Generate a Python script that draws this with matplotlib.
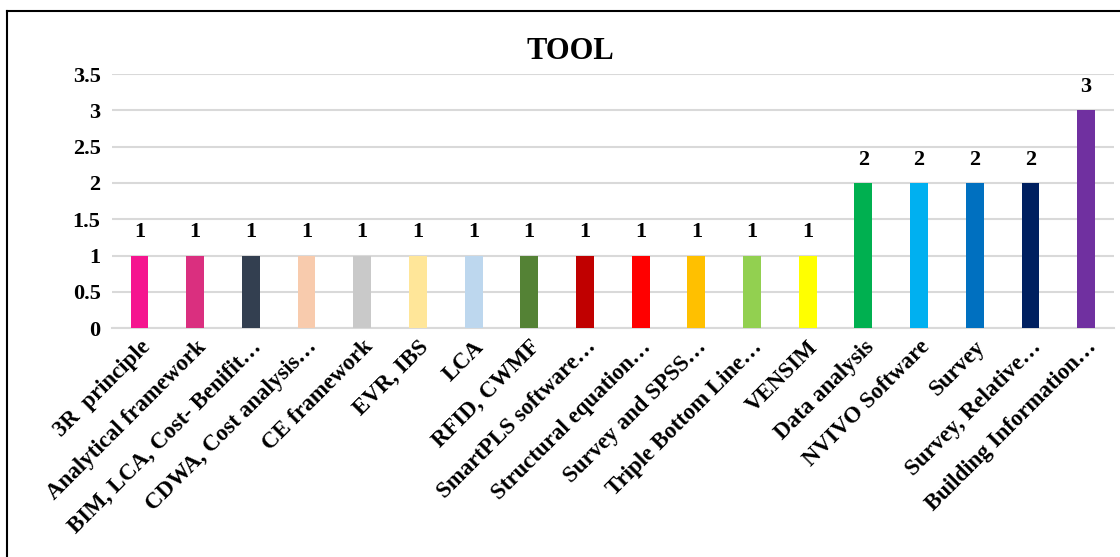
import matplotlib
matplotlib.use("Agg")
import matplotlib.pyplot as plt
from matplotlib.lines import Line2D

tools = [
    "3R  principle", "Analytical framework", "BIM, LCA, Cost- Benifit…",
    "CDWA, Cost analysis…", "CE framework", "EVR, IBS", "LCA", "RFID, CWMF",
    "SmartPLS software…", "Structural equation…", "Survey and SPSS…",
    "Triple Bottom Line…", "VENSIM", "Data analysis", "NVIVO Software",
    "Survey", "Survey, Relative…", "Building Information…",
]
counts = [1, 1, 1, 1, 1, 1, 1, 1, 1, 1, 1, 1, 1, 2, 2, 2, 2, 3]
colors = [
    "#F5158F", "#DA2F7F", "#333F50", "#F8CBAD", "#C9C9C9", "#FFE699",
    "#BDD7EE", "#548235", "#C00000", "#FF0000", "#FFC000", "#92D050",
    "#FFFF00", "#00B050", "#00B0F0", "#0070C0", "#002060", "#7030A0",
]
yticks = [0, 0.5, 1, 1.5, 2, 2.5, 3, 3.5]
ytick_labels = ["0", "0.5", "1", "1.5", "2", "2.5", "3", "3.5"]

plt.rcParams["font.family"] = ["Liberation Serif", "DejaVu Serif"]
plt.rcParams["font.weight"] = "bold"

fig = plt.figure(figsize=(11.2, 5.57), dpi=100)
ax = fig.add_axes([0.0997, 0.411, 0.8949, 0.456])

x = range(len(tools))
bars = ax.bar(x, counts, width=0.32, color=colors, zorder=3)
for b, v in zip(bars, counts):
    ax.text(b.get_x() + b.get_width() / 2, v + 0.18, str(v),
            ha="center", va="bottom", fontsize=16, fontweight="bold")

ax.set_xlim(-0.5, len(tools) - 0.5)
ax.set_ylim(0, 3.5)
ax.set_yticks(yticks)
ax.set_yticklabels(ytick_labels, fontsize=16, fontweight="bold")
ax.set_xticks(list(x))
ax.set_xticklabels(tools, rotation=45, ha="right", rotation_mode="anchor",
                   fontsize=16.5, fontweight="bold")
ax.tick_params(axis="both", length=0, pad=8)
ax.tick_params(axis="x", pad=6)
ax.yaxis.grid(True, color="#D9D9D9", linewidth=1.5, zorder=0)
for s in ["top", "right", "left"]:
    ax.spines[s].set_visible(False)
ax.spines["bottom"].set_color("#D9D9D9")
ax.spines["bottom"].set_linewidth(1.5)

fig.text(0.509, 0.907, "TOOL", ha="center", va="center",
         fontsize=22, fontweight="bold")

# outer chart frame (cut off on the right and bottom)
fig.add_artist(Line2D([0.0063, 1.0], [0.980, 0.980], color="black", lw=1.5))
fig.add_artist(Line2D([0.0063, 0.0063], [0.0, 0.980], color="black", lw=1.5))

fig.savefig("out.png", dpi=100, facecolor="white")
